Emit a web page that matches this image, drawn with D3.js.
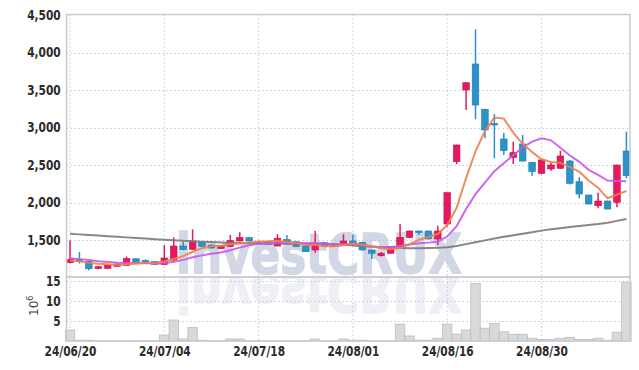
<!DOCTYPE html>
<html><head><meta charset="utf-8">
<script src="https://cdn.jsdelivr.net/npm/d3@7/dist/d3.min.js"></script>
<style>html,body{margin:0;padding:0;background:#fff;} svg{display:block}</style>
</head><body><svg id="c" width="639" height="370"></svg>
<script>
const dates = ["24/06/20","24/06/21","24/06/24","24/06/25","24/06/26","24/06/27","24/06/28","24/07/01","24/07/02","24/07/03",
"24/07/04","24/07/05","24/07/08","24/07/09","24/07/10","24/07/11","24/07/12","24/07/15","24/07/16","24/07/17",
"24/07/18","24/07/19","24/07/22","24/07/23","24/07/24","24/07/25","24/07/26","24/07/29","24/07/30","24/07/31",
"24/08/01","24/08/02","24/08/05","24/08/06","24/08/07","24/08/08","24/08/09","24/08/12","24/08/13","24/08/14",
"24/08/16","24/08/19","24/08/20","24/08/21","24/08/22","24/08/23","24/08/26","24/08/27","24/08/28","24/08/29",
"24/08/30","24/09/02","24/09/03","24/09/04","24/09/05","24/09/06","24/09/09","24/09/10","24/09/11","24/09/12"];
const opens  = [1197,1243,1213,1120,1123,1147,1160,1250,1227,1216,1173,1233,1420,1376,1469,1433,1387,1416,1487,1531,
1470,1477,1420,1507,1477,1420,1367,1464,1420,1433,1487,1467,1367,1291,1323,1411,1533,1620,1620,1513,
1713,2544,3500,3847,3243,3053,2847,2597,2780,2536,2389,2447,2456,2553,2277,2100,1957,2020,2003,2687];
const highs  = [1496,1340,1220,1150,1175,1185,1280,1255,1240,1220,1433,1536,1483,1643,1480,1440,1433,1567,1603,1540,
1478,1480,1576,1567,1480,1425,1620,1470,1455,1576,1567,1475,1370,1340,1420,1713,1625,1625,1625,1691,
2135,2770,3600,4309,3250,3180,2931,2811,2900,2540,2573,2544,2691,2567,2336,2105,2131,2025,2505,2944];
const lows   = [1190,1187,1096,1110,1115,1145,1155,1180,1193,1168,1168,1216,1365,1370,1410,1388,1380,1410,1480,1480,
1460,1440,1415,1440,1405,1340,1331,1415,1413,1427,1450,1360,1247,1280,1318,1405,1527,1567,1507,1433,
1677,2509,3233,3109,2856,2589,2633,2513,2545,2353,2380,2424,2450,2240,2056,1975,1923,1907,1936,2323];
const closes = [1243,1216,1117,1144,1167,1180,1253,1184,1200,1173,1260,1420,1373,1487,1416,1393,1427,1493,1533,1487,
1465,1443,1523,1447,1411,1344,1456,1420,1447,1487,1453,1367,1323,1323,1413,1536,1620,1613,1513,1620,
2131,2767,3597,3300,2967,3040,2691,2664,2553,2411,2567,2500,2620,2256,2113,1980,2020,1913,2500,2357];
const volumes = [2.75,0.2,0.2,0.05,0.05,0.05,0.05,0.05,0.05,0.05,1.5,5.25,0.5,3.4,0.2,0.05,0.05,0.5,0.5,0.05,
0.05,0.05,0.05,0.05,0.05,0.05,0.5,0.05,0.05,0.5,0.2,0.2,0.05,0.05,0.05,4.2,1.25,0.2,0.2,0.7,
4.2,1.7,2.75,14.4,3.2,4.4,2.3,1.7,1.7,0.7,0.4,0.4,0.7,0.9,0.4,0.4,0.7,0.2,2.2,14.7];
const ma5  = [1225,1215,1195,1183,1177,1165,1172,1186,1197,1198,1214,1247,1285,1343,1391,1418,1419,1443,1452,1467,
1481,1484,1490,1473,1458,1434,1436,1416,1416,1431,1453,1435,1415,1391,1376,1392,1443,1501,1539,1580,
1699,1929,2326,2683,2952,3134,3119,2932,2783,2672,2577,2539,2530,2471,2411,2294,2198,2056,2105,2154];
const ma10 = [1258,1245,1232,1218,1207,1198,1193,1190,1189,1188,1189,1210,1235,1270,1295,1316,1333,1364,1398,1429,
1449,1452,1467,1463,1462,1457,1460,1453,1444,1444,1443,1436,1416,1403,1403,1423,1439,1458,1465,1478,
1546,1686,1913,2111,2266,2417,2524,2629,2733,2812,2856,2829,2731,2627,2542,2436,2368,2293,2288,2283];
const ma60 = [1583,1575,1567,1559,1551,1543,1535,1527,1519,1511,1503,1496,1489,1483,1477,1472,1468,1464,1461,1458,
1456,1454,1452,1450,1448,1446,1444,1442,1440,1435,1428,1418,1410,1403,1397,1393,1390,1390,1392,1395,
1402,1420,1445,1470,1495,1520,1542,1562,1583,1603,1625,1642,1658,1673,1688,1700,1713,1730,1755,1780];
const priceTicks = [1500,2000,2500,3000,3500,4000,4500];
const volTicks = [5,10,15];
const xTickLabels = ["24/06/20","24/07/04","24/07/18","24/08/01","24/08/16","24/08/30"];

const svg = d3.select("#c");
const L = 66.5, R = 630, T = 14.5, PB = 277, VB = 341;
const x = d3.scalePoint().domain(dates).range([70, 626.4]);
const step = x.step();
const yP = d3.scaleLinear().domain([1000, 4500]).range([277.5, 15]);
const yV = d3.scaleLinear().domain([0, 15]).range([VB, 281]);
const labelFont = "'DejaVu Sans Condensed','Liberation Sans Narrow',sans-serif";

// watermark (text + mirrored reflection)
const defs = svg.append("defs");
defs.append("clipPath").attr("id", "cpTop").append("rect").attr("x", 0).attr("y", 0).attr("width", 639).attr("height", PB);
defs.append("clipPath").attr("id", "cpBot").append("rect").attr("x", 0).attr("y", PB).attr("width", 639).attr("height", 60);
const wmFont = "'DejaVu Sans',Arial,sans-serif";
svg.append("g").attr("clip-path", "url(#cpBot)").append("text")
  .attr("x", 176).attr("y", -272.5).attr("transform", "scale(1,-1)").attr("textLength", 286).attr("lengthAdjust", "spacingAndGlyphs")
  .attr("font-family", wmFont).attr("font-weight", "bold").attr("font-size", 56)
  .attr("fill", "#eef0f5").attr("stroke", "#eef0f5").attr("stroke-width", 1.5).text("investCRUX");
svg.append("g").attr("clip-path", "url(#cpTop)").append("text")
  .attr("x", 176).attr("y", 272.5).attr("textLength", 286).attr("lengthAdjust", "spacingAndGlyphs")
  .attr("font-family", wmFont).attr("font-weight", "bold").attr("font-size", 56)
  .attr("fill", "#d2d7e6").attr("stroke", "#d2d7e6").attr("stroke-width", 1.5).text("investCRUX");

// grid
const grid = svg.append("g").attr("stroke", "#c3cadb").attr("stroke-width", 1).attr("stroke-dasharray", "1.5,2.5");
grid.selectAll(".hp").data(priceTicks.filter(d => d < 4500)).join("line")
  .attr("x1", L).attr("x2", R).attr("y1", d => Math.round(yP(d)) + 0.5).attr("y2", d => Math.round(yP(d)) + 0.5);
grid.selectAll(".hv").data(volTicks).join("line")
  .attr("x1", L).attr("x2", R).attr("y1", d => Math.round(yV(d)) + 0.5).attr("y2", d => Math.round(yV(d)) + 0.5);
grid.selectAll(".v").data(xTickLabels).join("line")
  .attr("x1", d => x(d)).attr("x2", d => x(d)).attr("y1", T).attr("y2", VB);

// volume bars
svg.append("g").selectAll("rect").data(volumes).join("rect")
  .attr("x", (d, i) => x(dates[i]) - step / 2).attr("width", step)
  .attr("y", d => yV(d)).attr("height", d => VB - yV(d))
  .attr("fill", "#d9d9d9").attr("stroke", "#bdbdbd").attr("stroke-width", 0.8);

// candles
const cg = svg.append("g");
const up = "#e6195f", upS = "#c4104c", dn = "#2c92c8", dnS = "#1f7db0";
dates.forEach((d, i) => {
  const o = opens[i], c = closes[i], isUp = c >= o;
  const cx = x(d);
  cg.append("line").attr("x1", cx).attr("x2", cx).attr("y1", yP(highs[i])).attr("y2", yP(lows[i]))
    .attr("stroke", isUp ? up : dn).attr("stroke-width", 1.5);
  const y1 = yP(Math.max(o, c)), y2 = yP(Math.min(o, c));
  cg.append("rect").attr("x", cx - 3.3).attr("width", 6.6).attr("y", y1).attr("height", Math.max(1.5, y2 - y1))
    .attr("fill", isUp ? up : dn).attr("stroke", isUp ? upS : dnS).attr("stroke-width", 0.6);
});

// moving averages
const line = d3.line().x((d, i) => x(dates[i])).y(d => yP(d));
svg.append("path").datum(ma60).attr("d", line).attr("fill", "none").attr("stroke", "#7a7a7a").attr("stroke-width", 2).attr("opacity", 0.9);
svg.append("path").datum(ma10).attr("d", line).attr("fill", "none").attr("stroke", "#c857ec").attr("stroke-width", 2).attr("opacity", 0.9);
svg.append("path").datum(ma5).attr("d", line).attr("fill", "none").attr("stroke", "#ef8048").attr("stroke-width", 2).attr("opacity", 0.9);

// panel borders
svg.append("rect").attr("x", L).attr("y", T).attr("width", R - L).attr("height", PB - T)
  .attr("fill", "none").attr("stroke", "#c9cbd0").attr("stroke-width", 1.5);
svg.append("rect").attr("x", L).attr("y", PB).attr("width", R - L).attr("height", VB - PB)
  .attr("fill", "none").attr("stroke", "#c9cbd0").attr("stroke-width", 1.5);

// axes
const ay = svg.append("g").attr("transform", `translate(${L},0)`)
  .call(d3.axisLeft(yP).tickValues(priceTicks).tickFormat(d3.format(",")).tickSize(0).tickPadding(7));
const av = svg.append("g").attr("transform", `translate(${L},0)`)
  .call(d3.axisLeft(yV).tickValues(volTicks).tickFormat(d3.format("d")).tickSize(0).tickPadding(7));
const ax = svg.append("g").attr("transform", `translate(0,${VB})`)
  .call(d3.axisBottom(x).tickValues(xTickLabels).tickSize(0).tickPadding(5));
[ay, av, ax].forEach(g => {
  g.select(".domain").remove();
  g.selectAll("text").attr("font-family", labelFont).attr("font-size", 14).attr("font-weight", "bold")
    .attr("fill", "#2b2b2b").attr("transform", "scale(0.84,1)");
});

// 10^6 unit label
const u = svg.append("text").attr("transform", "translate(38,316) rotate(-90)")
  .attr("font-family", "'DejaVu Sans',sans-serif").attr("font-size", 12).attr("fill", "#444");
u.append("tspan").text("10");
u.append("tspan").attr("dy", -5).attr("font-size", 8).text("6");
</script></body></html>
